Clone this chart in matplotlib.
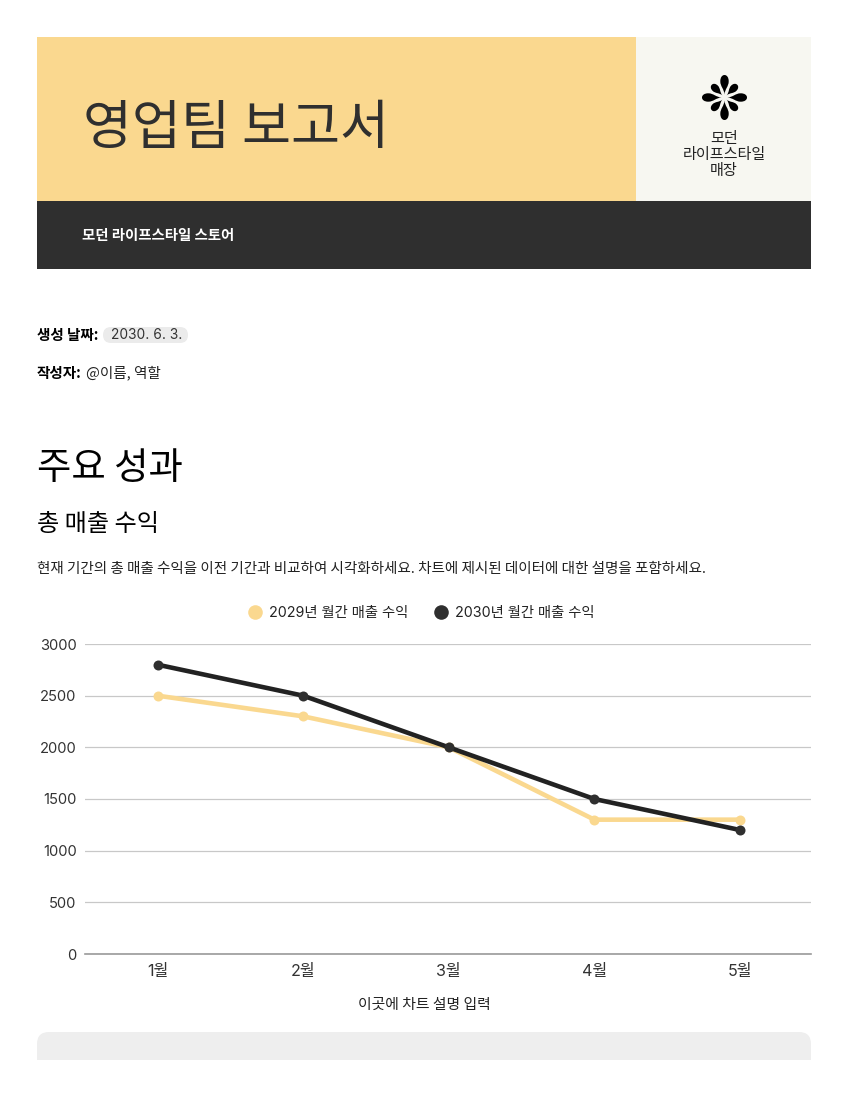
"""
Sales team report page with monthly revenue line chart.
"""
import numpy as np
import matplotlib
matplotlib.use('Agg')
import matplotlib.pyplot as plt
from matplotlib.patches import Rectangle, FancyBboxPatch, PathPatch
from matplotlib.path import Path

plt.rcParams['font.family'] = ['Noto Sans CJK KR', 'DejaVu Sans']
NUM_FONT = ['Inter', 'Noto Sans CJK KR']

months = ['1월', '2월', '3월', '4월', '5월']
sales_2029 = [2500, 2300, 2000, 1300, 1300]
sales_2030 = [2800, 2500, 2000, 1500, 1200]
y_ticks = [0, 500, 1000, 1500, 2000, 2500, 3000]
series_names = ['2029년 월간 매출 수익', '2030년 월간 매출 수익']

colors = {
    'yellow': '#fad88f',
    'dark': '#2f2f2f',
    'cream': '#f7f7f1',
    'pill': '#ebebeb',
    'grid': '#c8c8c8',
    'axis': '#9a9a9a',
    'text': '#222222',
}

W, H = 848, 1097
fig = plt.figure(figsize=(W / 100, H / 100), dpi=100, facecolor='white')

# page layer in pixel coordinates
page = fig.add_axes([0, 0, 1, 1])
page.set_xlim(0, W)
page.set_ylim(H, 0)
page.axis('off')

page.add_patch(Rectangle((37, 37), 599, 164, color=colors['yellow'], lw=0))
page.add_patch(Rectangle((636, 37), 175, 164, color=colors['cream'], lw=0))
page.add_patch(Rectangle((37, 201), 774, 68, color=colors['dark'], lw=0))


def petal(cx, cy, angle, length, width):
    # teardrop, point towards the centre, round at the outer end
    s0 = 3
    verts = np.array([
        [s0, 0],
        [s0 + length * 0.3, width * 0.1], [s0 + length * 0.4, width], [s0 + length * 0.68, width],
        [s0 + length * 0.87, width], [s0 + length, width * 0.6], [s0 + length, 0],
        [s0 + length, -width * 0.6], [s0 + length * 0.87, -width], [s0 + length * 0.68, -width],
        [s0 + length * 0.4, -width], [s0 + length * 0.3, -width * 0.1], [s0, 0],
    ])
    c, s = np.cos(angle), np.sin(angle)
    xy = np.column_stack([cx + verts[:, 0] * c - verts[:, 1] * s,
                          cy + verts[:, 0] * s + verts[:, 1] * c])
    codes = [Path.MOVETO] + [Path.CURVE4] * 12
    return PathPatch(Path(xy, codes), color='black', lw=0)


for i in range(8):
    size = (19.5, 4.2) if i % 2 == 0 else (15, 3.7)
    page.add_patch(petal(724.5, 97.5, i * np.pi / 4, size[0], size[1]))

page.text(83, 129, '영업팀 보고서', fontsize=38.4, color=colors['dark'],
          va='center', ha='left')
page.text(82, 236, '모던 라이프스타일 스토어', fontsize=10.4, color='white',
          fontweight='bold', va='center')
page.text(724, 138, '모던', fontsize=10.9, color=colors['text'], ha='center', va='center')
page.text(724, 154, '라이프스타일', fontsize=10.9, color=colors['text'], ha='center', va='center')
page.text(724, 171, '매장', fontsize=10.9, color=colors['text'], ha='center', va='center')

page.add_patch(FancyBboxPatch((103, 327), 85, 16, boxstyle='round,pad=0,rounding_size=8',
                              color=colors['pill'], lw=0))
page.text(37, 335, '생성 날짜:', fontsize=10.5, fontweight='bold', color='black', va='center')
page.text(111, 335, '2030. 6. 3.', fontsize=9.9, color='#333333', va='center', family=NUM_FONT)
page.text(37, 373, '작성자:', fontsize=10.5, fontweight='bold', color='black', va='center')
page.text(86, 373, '@이름, 역할', fontsize=10.5, color=colors['text'], va='center')

page.text(37, 469, '주요 성과', fontsize=26.9, color='black', va='center')
page.text(37, 524, '총 매출 수익', fontsize=17.4, color='black', va='center')
page.text(37, 569, '현재 기간의 총 매출 수익을 이전 기간과 비교하여 시각화하세요. 차트에 제시된 데이터에 대한 설명을 포함하세요.',
          fontsize=10.5, color=colors['text'], va='center')
page.text(424, 1005, '이곳에 차트 설명 입력', fontsize=10.7, color=colors['text'],
          ha='center', va='center')

# grey box cut off at the page break
page.add_patch(FancyBboxPatch((37, 1032), 774, 60, boxstyle='round,pad=0,rounding_size=12',
                              color='#eeeeee', lw=0))
page.add_patch(Rectangle((30, 1060), 790, 40, color='white', lw=0))

# legend
page.plot([255], [612], 'o', ms=10.5, color=colors['yellow'], mew=0)
page.text(269, 613, series_names[0], fontsize=10.3, color=colors['text'], va='center', family=NUM_FONT)
page.plot([441], [612], 'o', ms=10.5, color=colors['dark'], mew=0)
page.text(455, 613, series_names[1], fontsize=10.3, color=colors['text'], va='center', family=NUM_FONT)

# chart
ax = fig.add_axes([85 / W, 1 - 954 / H, 726 / W, 310 / H])
ax.patch.set_alpha(0)
x = np.arange(len(months))
ax.plot(x, sales_2029, color=colors['yellow'], lw=3.3, marker='o', ms=7.2, mew=0,
        solid_joinstyle='round', zorder=3)
ax.plot(x, sales_2030, color='#222222', lw=3.3, marker='o', ms=7.2, mew=0,
        mfc=colors['dark'], solid_joinstyle='round', zorder=4)
ax.set_xlim(-0.498, 4.488)
ax.set_ylim(0, 3000)
ax.set_yticks(y_ticks)
ax.set_xticks(x)
ax.set_xticklabels(months)
ax.grid(axis='y', color=colors['grid'], lw=0.9)
ax.set_axisbelow(True)
for side in ['top', 'right', 'left']:
    ax.spines[side].set_visible(False)
ax.spines['bottom'].set_color(colors['axis'])
ax.spines['bottom'].set_linewidth(1.2)
ax.tick_params(length=0, labelsize=10.6, labelcolor='#333333')
ax.tick_params(axis='y', pad=6)
ax.tick_params(axis='x', pad=7, labelsize=11.6)
for lab in ax.get_yticklabels() + ax.get_xticklabels():
    lab.set_family(NUM_FONT)

fig.savefig('out.png', dpi=100, facecolor='white')
